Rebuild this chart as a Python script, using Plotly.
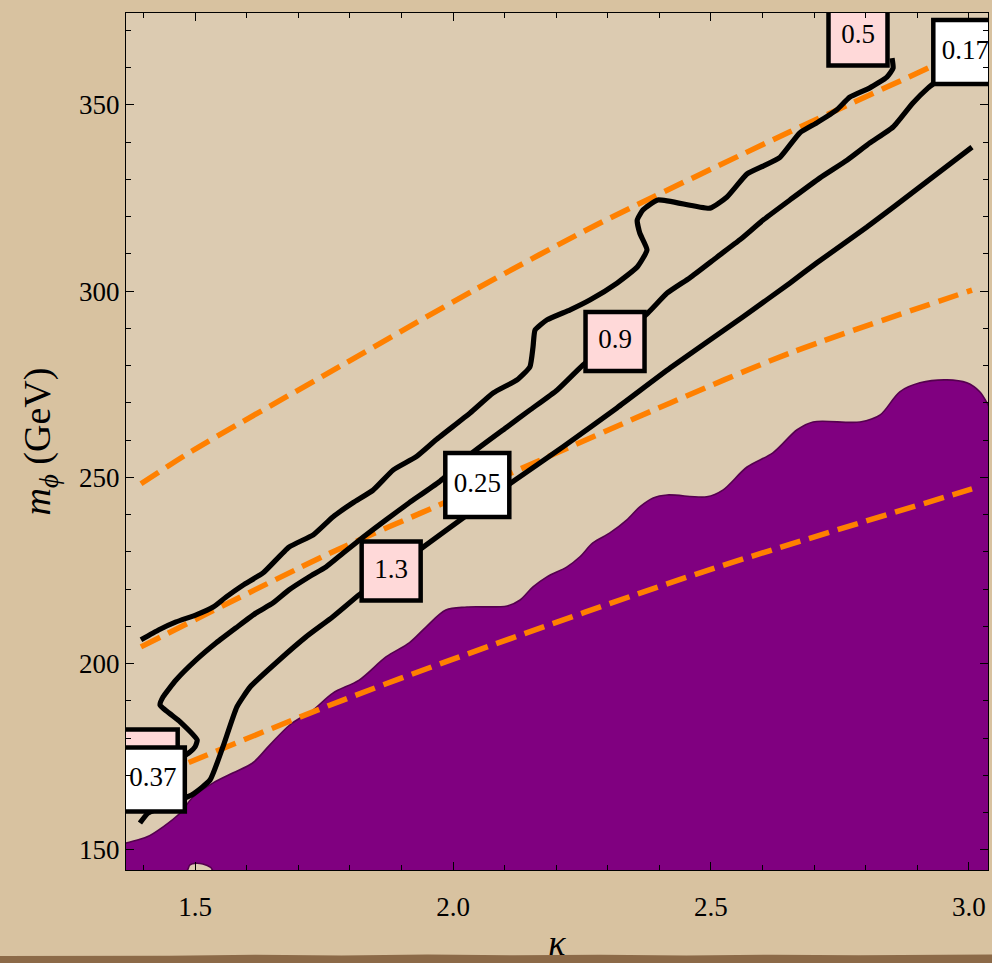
import plotly.graph_objects as go

# ---------------- data ----------------
# orange dashed contours (white labels)
kappa_o017 = [1.395, 1.494, 1.750, 2.041, 2.285, 2.653, 2.921]
m_o017 = [248.3, 257.1, 277.4, 300.3, 318.3, 342.8, 359.9]

kappa_o025 = [1.395, 1.762, 1.973, 2.421, 2.653, 3.006]
m_o025 = [204.5, 229.7, 242.6, 270.0, 283.4, 300.3]

kappa_o037 = [1.380, 1.490, 1.762, 1.996, 2.479, 3.006]
m_o037 = [167.2, 173.6, 188.9, 201.0, 224.4, 246.9]

# black contours (pink labels)
kappa_c05 = [1.395, 1.430, 1.463, 1.502, 1.535, 1.560, 1.593, 1.632, 1.682, 1.729,
             1.767, 1.806, 1.845, 1.884, 1.928, 1.967, 2.033, 2.078, 2.124, 2.149,
             2.155, 2.159, 2.182, 2.227, 2.266, 2.318, 2.357, 2.376, 2.362, 2.357,
             2.368, 2.397, 2.498, 2.531, 2.570, 2.601, 2.634, 2.672, 2.705, 2.744,
             2.769, 2.808, 2.841, 2.853, 2.851]
m_c05 = [206.4, 209.1, 211.2, 213.1, 215.2, 217.9, 221.1, 224.4, 231.3, 234.6,
         239.4, 243.2, 246.6, 252.0, 255.5, 260.1, 267.3, 272.7, 276.2, 279.7,
         285.0, 289.6, 292.3, 295.0, 297.7, 302.2, 306.5, 311.1, 315.6, 319.1,
         321.8, 324.5, 322.3, 325.3, 331.5, 333.6, 336.0, 342.5, 345.2, 348.7,
         352.1, 354.6, 357.5, 359.9, 362.6]

kappa_c09 = [1.452, 1.490, 1.500, 1.504, 1.471, 1.432, 1.438, 1.463, 1.502, 1.541,
             1.579, 1.618, 1.651, 1.682, 1.721, 1.754, 1.787, 1.826, 1.870, 1.915,
             1.973, 2.039, 2.105, 2.149, 2.202, 2.252, 2.314, 2.378, 2.415, 2.459,
             2.512, 2.556, 2.601, 2.653, 2.711, 2.764, 2.808, 2.853, 2.891, 2.921,
             2.953]
m_c09 = [172.8, 176.3, 177.7, 179.5, 184.4, 188.9, 191.1, 195.6, 201.0, 205.6,
         209.6, 213.6, 216.3, 219.8, 223.3, 226.0, 229.7, 234.0, 238.6, 243.2,
         248.8, 256.8, 263.6, 268.1, 273.5, 280.2, 286.9, 294.2, 299.5, 303.6,
         309.2, 313.8, 319.1, 324.5, 330.4, 335.2, 339.8, 344.1, 350.5, 354.6,
         358.1]

kappa_c13 = [1.393, 1.409, 1.494, 1.529, 1.554, 1.581, 1.607, 1.663, 1.715, 1.767,
             1.818, 1.880, 1.942, 2.019, 2.072, 2.120, 2.213, 2.318, 2.421, 2.562,
             2.653, 2.705, 2.802, 2.905, 3.006]
m_c13 = [157.2, 159.9, 164.8, 168.8, 177.7, 188.4, 193.8, 201.0, 207.2, 212.6,
         218.5, 224.9, 231.3, 239.1, 244.5, 249.3, 258.2, 268.7, 279.4, 293.1,
         302.2, 307.6, 317.2, 328.0, 338.7]

# purple excluded region (upper boundary, then closed along the bottom)
kappa_excl = [1.340, 1.368, 1.407, 1.438, 1.471, 1.496, 1.535, 1.574, 1.612, 1.645,
              1.684, 1.729, 1.767, 1.818, 1.870, 1.915, 1.948, 1.986, 2.027, 2.105,
              2.130, 2.155, 2.182, 2.221, 2.246, 2.271, 2.304, 2.337, 2.362, 2.388,
              2.415, 2.492, 2.523, 2.570, 2.620, 2.667, 2.698, 2.789, 2.828, 2.866,
              2.905, 2.957, 2.996, 3.021, 3.035, 3.060, 3.060, 3.060,
              2.000, 1.538, 1.530, 1.515, 1.502, 1.490, 1.482, 1.340, 1.340]
m_excl = [150.8, 151.9, 153.5, 156.2, 159.9, 164.2, 168.0, 170.7, 173.4, 178.2,
          183.6, 187.6, 192.1, 195.6, 201.8, 205.6, 209.9, 214.4, 215.2, 215.5,
          217.1, 220.6, 223.3, 226.0, 228.7, 232.4, 235.1, 238.6, 242.1, 244.5,
          245.3, 244.8, 246.6, 252.8, 256.6, 262.8, 264.9, 264.9, 266.8, 273.0,
          275.4, 276.2, 275.4, 273.0, 270.0, 262.0, 200.0, 140.0,
          140.0, 144.0, 145.3, 146.2, 146.4, 146.0, 144.0, 140.0, 145.0]

# contour labels: pink (black contours) and white (orange contours)
pink_text = ["", "0.5", "0.9", "1.3"]
pink_kappa = [1.409, 2.785, 2.314, 1.880]
pink_m = [174.4, 368.5, 286.5, 224.9]

white_text = ["0.17", "0.25", "0.37"]
white_kappa = [2.993, 2.047, 1.418]
white_m = [364.2, 248.0, 168.9]

x_ticks = [1.5, 2.0, 2.5, 3.0]
x_ticktext = ["1.5", "2.0", "2.5", "3.0"]
y_ticks = [150, 200, 250, 300, 350]

# ---------------- figure ----------------
SERIF = "Liberation Serif, Times New Roman, serif"
PURPLE = "#800080"
ORANGE = "#ff8000"
PAPER = "#d8c2a0"

fig = go.Figure()

fig.add_trace(go.Scatter(x=kappa_excl, y=m_excl, mode="lines", fill="toself",
                         fillcolor=PURPLE,
                         line=dict(color="#55004f", width=1.6, shape="spline", smoothing=0.9),
                         hoverinfo="skip", showlegend=False))

for kx, my in [(kappa_o017, m_o017), (kappa_o025, m_o025), (kappa_o037, m_o037)]:
    fig.add_trace(go.Scatter(x=kx, y=my, mode="lines",
                             line=dict(color=ORANGE, width=5.5, dash="21px,9px",
                                       shape="spline", smoothing=0.8),
                             hoverinfo="skip", showlegend=False))

for kx, my in [(kappa_c05, m_c05), (kappa_c09, m_c09), (kappa_c13, m_c13)]:
    fig.add_trace(go.Scatter(x=kx, y=my, mode="lines",
                             line=dict(color="black", width=5.2, shape="spline", smoothing=0.45),
                             hoverinfo="skip", showlegend=False))

# label boxes (markers) with text on top; clipped at the plot frame like the original
fig.add_trace(go.Scatter(x=pink_kappa, y=pink_m, mode="markers+text", text=pink_text,
                         textposition="middle center", cliponaxis=True,
                         textfont=dict(family=SERIF, size=27, color="black"),
                         marker=dict(symbol="square", size=59, color="#ffd9d9",
                                     line=dict(color="black", width=4.5)),
                         hoverinfo="skip", showlegend=False))
fig.add_trace(go.Scatter(x=white_kappa, y=white_m, mode="markers+text", text=white_text,
                         textposition="middle center", cliponaxis=True,
                         textfont=dict(family=SERIF, size=27, color="black"),
                         marker=dict(symbol="square", size=64, color="white",
                                     line=dict(color="black", width=4.5)),
                         hoverinfo="skip", showlegend=False))

# torn brown edge at the bottom of the page
shapes = [dict(type="path", xref="paper", yref="paper", layer="above",
               path=("M -0.15 -0.12 L -0.15 -0.1005 L 0.05 -0.1000 L 0.15 -0.0990 "
                     "L 0.25 -0.0998 L 0.35 -0.0985 L 0.45 -0.0995 L 0.55 -0.0990 "
                     "L 0.65 -0.0998 L 0.75 -0.0988 L 0.85 -0.0995 L 0.95 -0.0990 "
                     "L 1.01 -0.0985 L 1.01 -0.12 Z"),
               fillcolor="#8c6a48", line=dict(width=0))]

fig.update_layout(
    width=992, height=963,
    margin=dict(l=126, r=4, t=13, b=93),
    paper_bgcolor=PAPER,
    plot_bgcolor="#dccbb1",
    font=dict(family=SERIF, size=27, color="black"),
    shapes=shapes,
    showlegend=False,
)

axis_common = dict(showgrid=False, zeroline=False, showline=True, linecolor="black",
                   linewidth=1.2, mirror="ticks", ticks="inside", ticklen=8,
                   tickwidth=1.2, tickcolor="black", automargin=False,
                   tickfont=dict(family=SERIF, size=27, color="black"))

fig.update_xaxes(range=[1.366, 3.037], tickvals=x_ticks, ticktext=x_ticktext,
                 minor=dict(dtick=0.1, tick0=1.0, ticks="inside", ticklen=5, tickcolor="black"),
                 ticklabelstandoff=12,
                 title=dict(text="<i>κ</i>", font=dict(family=SERIF, size=36), standoff=16),
                 **axis_common)
fig.update_yaxes(range=[144.6, 374.7], tickvals=y_ticks,
                 minor=dict(dtick=10, tick0=0, ticks="inside", ticklen=5, tickcolor="black"),
                 title=dict(text="<i>m</i><sub><i>ϕ</i></sub> (GeV)",
                            font=dict(family=SERIF, size=38), standoff=16),
                 **axis_common)

fig.write_html("out.html", config={"displayModeBar": False},
               post_script="document.body.style.margin='0';"
                           "document.body.style.background='%s';" % PAPER)
